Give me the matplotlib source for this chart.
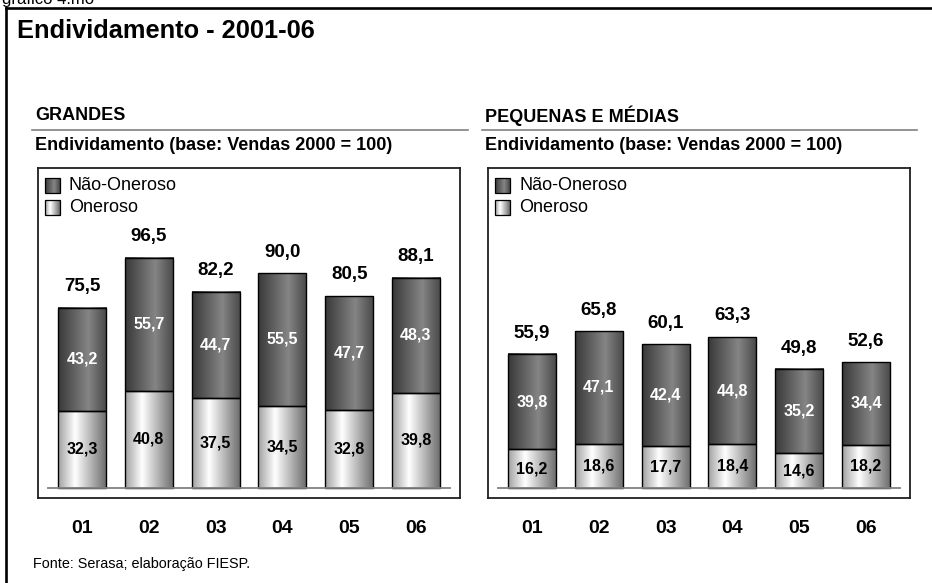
import numpy as np
import matplotlib
matplotlib.use("Agg")
import matplotlib.pyplot as plt
from matplotlib.colors import LinearSegmentedColormap
from matplotlib.patches import Rectangle
from matplotlib.lines import Line2D

plt.rcParams['font.family'] = ['Liberation Sans', 'DejaVu Sans']

# ---- data ----
years = ["01", "02", "03", "04", "05", "06"]
grandes_oneroso = [32.3, 40.8, 37.5, 34.5, 32.8, 39.8]
grandes_nao_oneroso = [43.2, 55.7, 44.7, 55.5, 47.7, 48.3]
grandes_total = [75.5, 96.5, 82.2, 90.0, 80.5, 88.1]
pm_oneroso = [16.2, 18.6, 17.7, 18.4, 14.6, 18.2]
pm_nao_oneroso = [39.8, 47.1, 42.4, 44.8, 35.2, 34.4]
pm_total = [55.9, 65.8, 60.1, 63.3, 49.8, 52.6]
series_names = ["Não-Oneroso", "Oneroso"]
panel_titles = ["GRANDES", "PEQUENAS E MÉDIAS"]
subtitle = "Endividamento (base: Vendas 2000 = 100)"

def fmt(v):
    return f"{v:.1f}".replace(".", ",")

cmap_dark = LinearSegmentedColormap.from_list(
    "dark", [(0, "#383838"), (0.62, "#858585"), (1, "#474747")])
cmap_light = LinearSegmentedColormap.from_list(
    "light", [(0, "#a0a0a0"), (0.35, "#ffffff"), (1, "#6a6a6a")])
grad = np.linspace(0, 1, 256).reshape(1, -1)

W, H = 932, 583
fig = plt.figure(figsize=(W / 100, H / 100), dpi=100)

def fx(px):
    return px / W

def fy(py):
    return 1 - py / H

# outer frame
fig.add_artist(Line2D([fx(6), fx(940)], [fy(8), fy(8)], color="black", lw=1.9))
fig.add_artist(Line2D([fx(6), fx(6)], [fy(8), fy(600)], color="black", lw=1.9))
fig.text(fx(2), fy(4), "grafico 4.mo", fontsize=12, va="baseline", ha="left")
fig.text(fx(17), fy(31), "Endividamento - 2001-06", fontsize=18.3,
         fontweight="bold", va="center", ha="left")
fig.text(fx(33), fy(564), "Fonte: Serasa; elaboração FIESP.", fontsize=10.4,
         va="center", ha="left")

panels = [
    (38, 32, 468, grandes_oneroso, grandes_nao_oneroso, grandes_total),
    (488, 482, 917, pm_oneroso, pm_nao_oneroso, pm_total),
]

for (left_px, line_x0, line_x1, oner, nao, tot), ptitle in zip(panels, panel_titles):
    fig.text(fx(left_px - 3), fy(116), ptitle, fontsize=13, fontweight="bold",
             va="center", ha="left")
    fig.add_artist(Line2D([fx(line_x0), fx(line_x1)], [fy(130), fy(130)],
                          color="#808080", lw=1.2))
    fig.text(fx(left_px - 3), fy(145), subtitle, fontsize=13, fontweight="bold",
             va="center", ha="left")

    ax = fig.add_axes([fx(left_px), fy(498), fx(422), 330 / H])
    x = np.arange(len(years))
    width = 0.72
    b1 = ax.bar(x, oner, width, color="none", edgecolor="black", lw=1.0, zorder=3)
    b2 = ax.bar(x, nao, width, bottom=oner, color="none", edgecolor="black",
                lw=1.0, zorder=3)
    for bars, cm in ((b1, cmap_light), (b2, cmap_dark)):
        for r in bars:
            x0, y0 = r.get_x(), r.get_y()
            ax.imshow(grad, cmap=cm, aspect="auto", interpolation="bilinear",
                      extent=[x0, x0 + r.get_width(), y0, y0 + r.get_height()],
                      zorder=2)
    for i in range(len(x)):
        ax.text(x[i], oner[i] / 2, fmt(oner[i]), ha="center", va="center",
                fontsize=11.5, fontweight="bold", color="black", zorder=4)
        ax.text(x[i], oner[i] + nao[i] / 2, fmt(nao[i]), ha="center",
                va="center", fontsize=11.5, fontweight="bold", color="white",
                zorder=4)
        ax.annotate(fmt(tot[i]), (x[i], tot[i]), xytext=(0, 15),
                    textcoords="offset points", ha="center", va="center",
                    fontsize=13.5, fontweight="bold", zorder=4)
    ax.axhline(0, xmin=10 / 422, xmax=1 - 10 / 422, color="#808080", lw=1.3,
               zorder=4)
    ax.set_yticks([])
    ax.set_xticks(x)
    ax.set_xticklabels(years, fontsize=14, fontweight="bold")
    ax.tick_params(axis="x", length=0, pad=15.5)
    for s in ax.spines.values():
        s.set_linewidth(1.3)
        s.set_color("#202020")

    # legend
    for name, cm, yc in ((series_names[0], cmap_dark, 0.948),
                         (series_names[1], cmap_light, 0.880)):
        sx, sw, sh = 7 / 422, 15 / 422, 15 / 330
        ax.imshow(grad, cmap=cm, aspect="auto", interpolation="bilinear",
                  extent=[sx, sx + sw, yc - sh / 2, yc + sh / 2],
                  transform=ax.transAxes, zorder=5)
        ax.add_patch(Rectangle((sx, yc - sh / 2), sw, sh, transform=ax.transAxes,
                               facecolor="none", edgecolor="black", lw=0.9,
                               zorder=6))
        ax.text(31 / 422, yc, name, transform=ax.transAxes, fontsize=13,
                va="center", ha="left")
    ax.set_xlim(-0.66, 5.66)
    ax.set_ylim(-4.2, 134.0)

fig.savefig("out.png", dpi=100)
